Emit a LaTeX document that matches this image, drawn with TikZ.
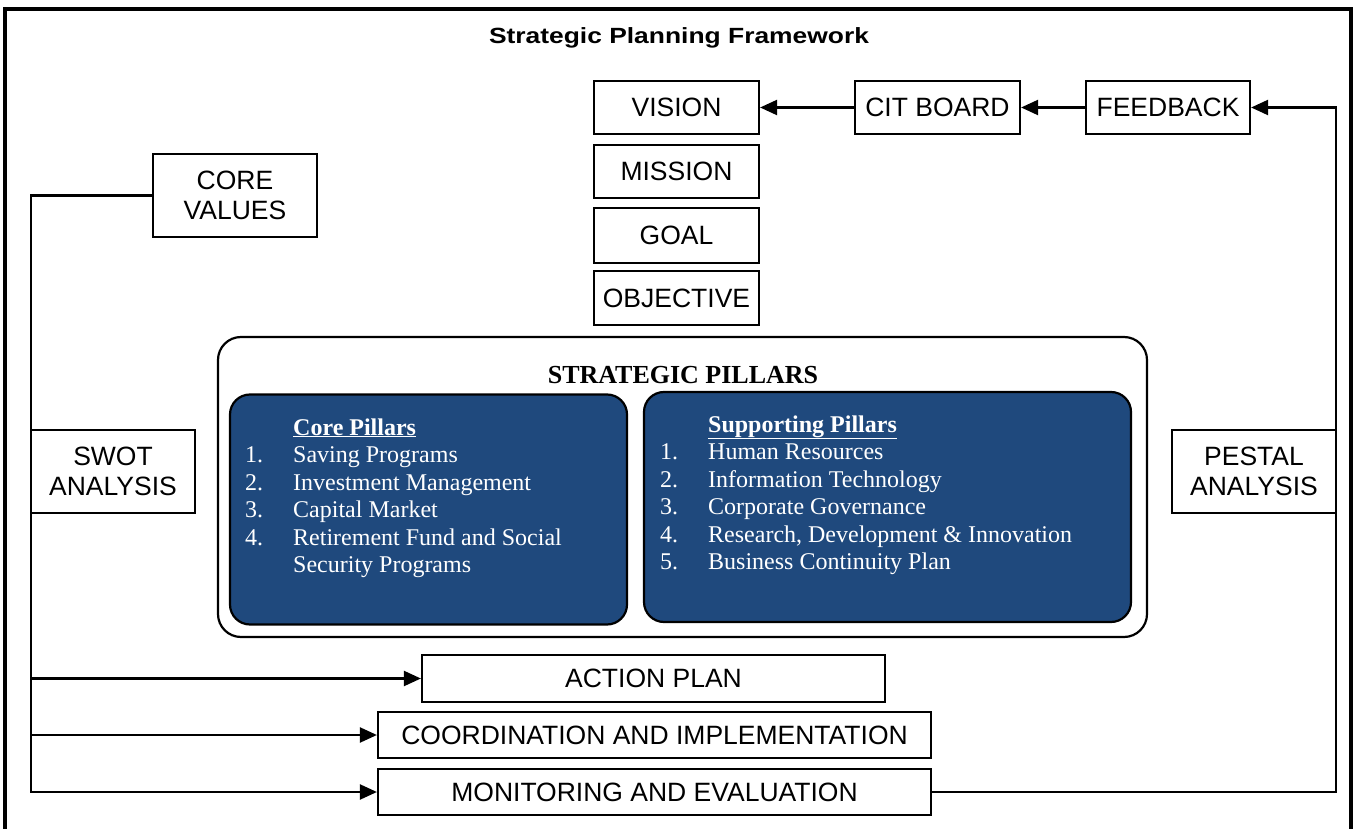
\documentclass[tikz,border=0pt]{standalone}
\usepackage{fontspec}
\setmainfont{Liberation Serif}
\setsansfont{Liberation Sans}
\newfontfamily\headfont[FakeStretch=1.2]{Liberation Sans}
\usetikzlibrary{arrows.meta, calc}
\definecolor{pillarblue}{RGB}{31,73,125}

\begin{document}
\begin{tikzpicture}[x = 1pt, y = -1pt,
  box/.style = {draw, line width = 2.2pt, inner sep = 0, align = center,
    font = \sffamily\fontsize{26.5}{30}\selectfont},
  link/.style = {line width = 2.2pt, -{Triangle[length = 17pt, width = 15pt]}},
  pillar/.style = {draw, line width = 2.2pt, fill = pillarblue, rounded corners = 20pt},
  item/.style = {text = white, inner sep = 0, anchor = base west,
    font = \fontsize{24}{27.5}\selectfont}]
\useasboundingbox (0, 0) rectangle (1363, 829);
\draw[line width = 4pt] (5, 829) -- (5, 9) -- (1351, 9) -- (1351, 829);
\node (title) at (679, 38) {\headfont\bfseries\fontsize{22}{26}\selectfont Strategic Planning Framework};

% top column
\node[box, minimum width = 165, minimum height = 53] (vision) at (676.5, 107.5) {VISION};
\node[box, minimum width = 165, minimum height = 53] (mission) at (676.5, 171.5) {MISSION};
\node[box, minimum width = 165, minimum height = 55] (goal) at (676.5, 235.5) {GOAL};
\node[box, minimum width = 165, minimum height = 54] (objective) at (676.5, 298) {OBJECTIVE};
\node[box, minimum width = 165, minimum height = 53] (cit) at (937.5, 107.5) {CIT BOARD};
\node[box, minimum width = 164, minimum height = 53] (feedback) at (1168, 107.5) {FEEDBACK};

% side boxes
\node[box, minimum width = 164, minimum height = 83] (corev) at (235, 195.5) {CORE\\VALUES};
\node[box, minimum width = 164, minimum height = 83] (swot) at (113, 471.5) {SWOT\\ANALYSIS};
\node[box, minimum width = 164, minimum height = 83] (pestal) at (1254, 471.5) {PESTAL\\ANALYSIS};

% pillars
\draw[line width = 2.2pt, rounded corners = 23pt] (218, 337) rectangle (1147, 637);
\node (sp) at (683, 375) {\fontsize{26}{30}\selectfont\bfseries STRATEGIC PILLARS};
\node[pillar, minimum width = 397, minimum height = 230] (corep) at (428.5, 509.5) {};
\node[pillar, minimum width = 487, minimum height = 230] (suppp) at (887.5, 507) {};
\node[item] (corelist) at (245, 435) {\begin{tabular}[t]{@{}p{48pt}@{}l@{}}
  & \textbf{\underline{Core Pillars}}\\
  1. & Saving Programs\\
  2. & Investment Management\\
  3. & Capital Market\\
  4. & Retirement Fund and Social\\
     & Security Programs
\end{tabular}};
\node[item] (supplist) at (660, 432) {\begin{tabular}[t]{@{}p{48pt}@{}l@{}}
  & \textbf{\underline{Supporting Pillars}}\\
  1. & Human Resources\\
  2. & Information Technology\\
  3. & Corporate Governance\\
  4. & Research, Development \& Innovation\\
  5. & Business Continuity Plan
\end{tabular}};

% bottom row
\node[box, minimum width = 463, minimum height = 47] (act) at (653.5, 678.5) {ACTION PLAN};
\node[box, minimum width = 553, minimum height = 46] (coord) at (654.5, 735) {COORDINATION AND IMPLEMENTATION};
\node[box, minimum width = 553, minimum height = 46] (mon) at (654.5, 792) {MONITORING AND EVALUATION};

% connectors
\coordinate (lbus) at (31, 0);
\coordinate (rbus) at (1336, 0);
\draw[link] (cit.west) -- (vision.east);
\draw[link] (feedback.west) -- (cit.east);
\draw[link] (mon.east) -- (mon.east -| rbus) -- (rbus |- feedback.east) -- (feedback.east);
\draw[link] (corev.west) -- (corev.west -| lbus) -- (lbus |- mon.west) -- (mon.west);
\draw[link] (lbus |- act.west) -- (act.west);
\draw[link] (lbus |- coord.west) -- (coord.west);
\end{tikzpicture}
\end{document}
